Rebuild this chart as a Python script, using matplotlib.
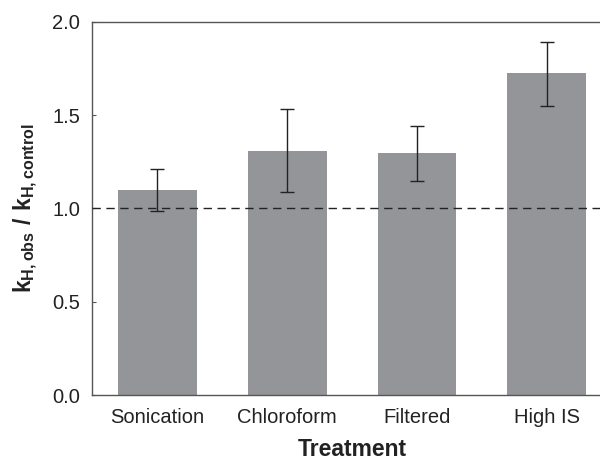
import matplotlib
matplotlib.use("Agg")
import matplotlib.pyplot as plt
import numpy as np

treatments = ["Sonication", "Chloroform", "Filtered", "High IS"]
ratios = [1.10, 1.31, 1.296, 1.723]
err_upper = [1.21, 1.53, 1.443, 1.889]
err_lower = [0.988, 1.089, 1.146, 1.55]

plt.rcParams['font.family'] = ['Liberation Sans', 'DejaVu Sans']
plt.rcParams['mathtext.fontset'] = 'custom'
plt.rcParams['mathtext.rm'] = 'Liberation Sans'
plt.rcParams['mathtext.bf'] = 'Liberation Sans:bold'

fig = plt.figure(figsize=(6, 4.65), dpi=100)
ax = fig.add_axes([0.154, 0.1505, 0.8655, 0.8028])

x = np.arange(len(treatments))
ratios = np.array(ratios)
yerr = [ratios - np.array(err_lower), np.array(err_upper) - ratios]

ax.bar(x, ratios, width=0.607, color='#939598', zorder=2)
ax.errorbar(x, ratios, yerr=yerr, fmt='none', ecolor='#222222', elinewidth=1,
            capsize=5, capthick=1, zorder=3)
ax.axhline(1.0, color='#222222', linestyle=(0, (6, 4)), linewidth=1, zorder=4)

ax.set_xlim(-0.5, 3.5)
ax.set_ylim(0, 2.0)
ax.set_yticks([0.0, 0.5, 1.0, 1.5, 2.0])
ax.set_yticklabels(["0.0", "0.5", "1.0", "1.5", "2.0"])
ax.set_xticks(x)
ax.set_xticklabels(treatments)
ax.tick_params(axis='both', labelsize=14.5, length=3, width=0.8, color='#555555',
               labelcolor='#222222', direction='in')
ax.tick_params(axis='x', pad=9)
ax.tick_params(axis='y', pad=9)

for s in ax.spines.values():
    s.set_color('#555555')
    s.set_linewidth(1.0)

ax.set_xlabel("Treatment", fontsize=16.5, fontweight='bold', labelpad=8,
              color='#222222')
ax.set_ylabel(r'$\mathbf{k_{H,obs}\ /\ k_{H,control}}$', fontsize=16.5, labelpad=9,
              color='#222222')

fig.savefig("out.png", dpi=100)
